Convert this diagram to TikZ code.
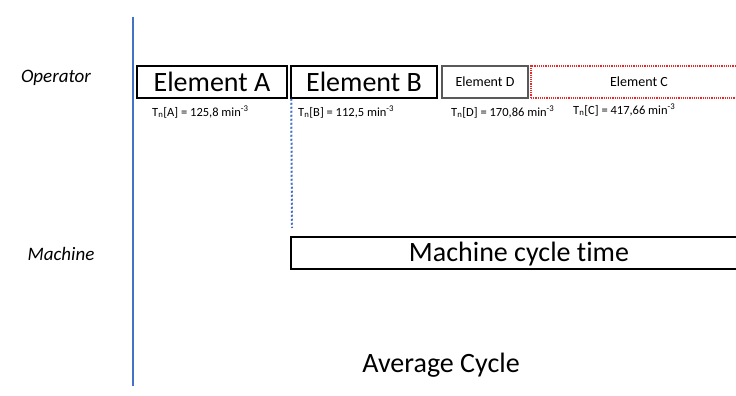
\documentclass[tikz,border=0pt]{standalone}
\usepackage{fontspec}
\setmainfont{Carlito}[Ligatures=NoCommon]
\usepackage{tikz}
\usetikzlibrary{
  arrows.meta,
  calc,
  positioning
}
\definecolor{axisblue}{RGB}{68,114,196}
\definecolor{boxgray}{RGB}{89,89,89}
\definecolor{dotred}{RGB}{235,40,40}

\begin{document}
\begin{tikzpicture}[x=1pt, y=-1pt,
  elem/.style={draw=black, line width=1.5pt, minimum height=32pt, inner sep=0pt, font=\fontsize{28}{32}\selectfont},
  smallelem/.style={draw=boxgray, line width=1.3pt, minimum height=32pt, inner sep=0pt, font=\fontsize{14}{17}\selectfont},
  tlabel/.style={anchor=base west, inner sep=0pt, font=\fontsize{12.5}{15}\selectfont},
  rowlabel/.style={inner sep=0pt, font=\fontsize{19}{22}\selectfont\itshape}]
  \useasboundingbox (0,0) rectangle (736,396);
  \clip (0,0) rectangle (736,396);
  % time axis
  \coordinate (axtop) at (133,17);
  \coordinate (axbot) at (133,386);
  \draw[axisblue, line width=2.5pt] (axtop) -- (axbot);
  % rows
  \node[rowlabel] (oper) at (56,78) {Operator};
  \node[rowlabel] (mach) at (61,254) {Machine};
  % operator elements
  \node[elem, minimum width=150pt] (elA) at (212,82) {Element A};
  \node[elem, minimum width=146pt] (elB) at (364,82) {Element B};
  \node[smallelem, minimum width=86pt] (elD) at (485,82) {Element D};
  \node[draw=dotred, densely dotted, line width=1.2pt, minimum height=32pt, minimum width=214pt, inner sep=0pt] (elC) at (638,82) {};
  \node[inner sep=0pt, font=\fontsize{14}{17}\selectfont] (elCt) at (639,82) {Element C};
  % times
  \node[tlabel] (tA) at (152,116) {T\textsubscript{n}[A] = 125,8 min\textsuperscript{-3}};
  \node[tlabel] (tB) at (298,116) {T\textsubscript{n}[B] = 112,5 min\textsuperscript{-3}};
  \node[tlabel] (tD) at (451,116) {T\textsubscript{n}[D] = 170,86 min\textsuperscript{-3}};
  \node[tlabel] (tC) at (573,114) {T\textsubscript{n}[C] = 417,66 min\textsuperscript{-3}};
  % machine
  \coordinate (mstart) at (292,228);
  \draw[axisblue, line width=2pt, dotted] ([xshift=1pt]elB.south west) -- (mstart);
  \node[draw=black, line width=1.2pt, minimum height=32pt, minimum width=452pt, inner sep=0pt] (cyc) at (517,253) {};
  \node[inner sep=0pt, font=\fontsize{28}{32}\selectfont] (cyct) at (519,254) {Machine cycle time};
  \node[inner sep=0pt, font=\fontsize{28}{32}\selectfont] (avg) at (441,365) {Average Cycle};
\end{tikzpicture}
\end{document}
